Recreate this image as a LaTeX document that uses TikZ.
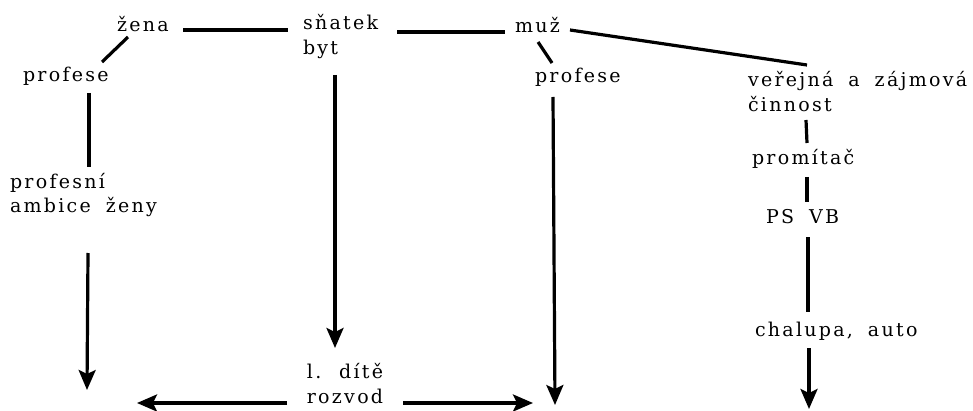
\documentclass[tikz,border=0pt]{standalone}
\usepackage{fontspec}
\newfontfamily\labfont[LetterSpace=12,WordSpace=1.8]{DejaVu Serif}
\usetikzlibrary{arrows.meta,calc}
\begin{document}
\begin{tikzpicture}[x=1pt,y=1pt,
  lab/.style={inner sep=0pt,outer sep=0pt,font=\labfont\fontsize{19}{25}\selectfont},
  lbl/.style={lab,anchor=base west},
  con/.style={line width=3.2pt},
  arr/.style={con,-{Stealth[length=20pt,width=17pt,inset=4pt]}}]
\useasboundingbox (0,0) rectangle (973,410);
% nodes (multi-line nodes are placed by the baseline of their last line)
\node[lbl] (zena) at (117,378) {žena};
\node[lbl,align=left] (snatek) at (303,355) {sňatek\\byt};
\node[lbl] (muz) at (515,377) {muž};
\node[lbl] (prof1) at (23,328) {profese};
\node[lbl] (prof2) at (535,327) {profese};
\node[lbl,align=left] (verejna) at (748,298) {veřejná a zájmová\\činnost};
\node[lbl,align=left] (ambice) at (10,197) {profesní\\ambice ženy};
\node[lbl] (promitac) at (752,245) {promítač};
\node[lbl] (psvb) at (766,186) {PS VB};
\node[lbl] (chalupa) at (755,74) {chalupa, auto};
\node[lab,anchor=base,align=center] (dite) at (345,7) {l. dítě\\rozvod};
% free ends
\coordinate (endL) at (87,20);
\coordinate (endM) at (555,5);
\coordinate (endR) at (809,1);
\coordinate (endHL) at (137,7);
\coordinate (endHR) at (533,7);
% connectors
\draw[con] ($(zena.base west)+(66,2)$) -- ($(snatek.base west)+(-15,25)$);
\draw[con] ($(snatek.base west)+(94,23)$) -- ($(muz.base west)+(-10,1)$);
\draw[con] ($(muz.base west)+(55,3)$) -- ($(verejna.base west)+(59,47)$);
\draw[con] ($(zena.base west)+(11,-5)$) -- ($(prof1.base west)+(79,20)$);
\draw[con] ($(muz.base west)+(23,-9)$) -- ($(prof2.base west)+(17,20)$);
\draw[con] ($(prof1.base west)+(66,-11)$) -- ($(ambice.base west)+(79,46)$);
\draw[arr] ($(ambice.base west)+(78,-40)$) -- (endL);
\draw[arr] ($(snatek.base west)+(32,-20)$) -- ($(dite.base)+(-10,55)$);
\draw[arr] ($(prof2.base west)+(18,-14)$) -- (endM);
\draw[arr] ($(dite.base)+(-58,0)$) -- (endHL);
\draw[arr] ($(dite.base)+(58,0)$) -- (endHR);
\draw[con] ($(verejna.base west)+(58,-8)$) -- ($(promitac.base west)+(55,22)$);
\draw[con] ($(promitac.base west)+(55,-12)$) -- ($(psvb.base west)+(41,22)$);
\draw[con] ($(psvb.base west)+(42,-13)$) -- ($(chalupa.base west)+(53,24)$);
\draw[arr] ($(chalupa.base west)+(54,-12)$) -- (endR);
\end{tikzpicture}
\end{document}
